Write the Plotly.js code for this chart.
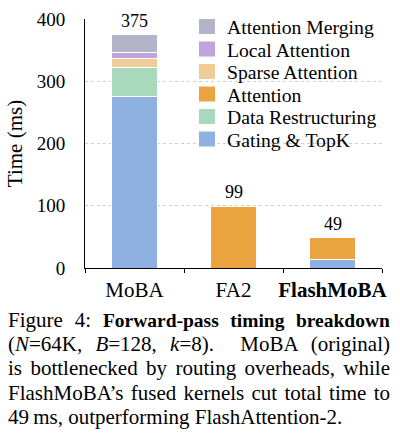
<!DOCTYPE html>
<html>
<head>
<meta charset="utf-8">
<script src="https://cdn.plot.ly/plotly-3.0.1.min.js"></script>
<style>
  html, body { margin: 0; padding: 0; background: #fff; }
  #chart { width: 400px; height: 433px; }
</style>
</head>
<body>
<div id="chart"></div>
<script>
const methods = ["MoBA", "FA2", "FlashMoBA"];
const tickLabels = ["MoBA", "FA2", "<b>FlashMoBA</b>"];

// stack order, bottom to top
const gating = [275, 0, 14];
const restructuring = [47, 0, 0];
const attention = [0, 99, 35];
const sparse = [15, 0, 0];
const local = [9, 0, 0];
const merging = [29, 0, 0];

const seriesNames = ["Gating & TopK", "Data Restructuring", "Attention",
  "Sparse Attention", "Local Attention", "Attention Merging"];
const seriesValues = [gating, restructuring, attention, sparse, local, merging];
const seriesColors = ["#8fb1e2", "#a9d9bd", "#eba440", "#f0cc98", "#c2a3dc", "#b4b4c8"];

const captionLines = [
  "Figure 4: <span style=\"font-size:19.5px\"><b>Forward-pass timing breakdown</b></span>",
  "(<i>N</i>=64K, <i>B</i>=128, <i>k</i>=8).  MoBA (original)",
  "is bottlenecked by routing overheads, while",
  "FlashMoBA\u2019s fused kernels cut total time to",
  "49\u2009ms, outperforming FlashAttention-2."
];

const serif = "Liberation Serif, Times New Roman, serif";

const traces = seriesNames.map((name, i) => ({
  type: "bar",
  name: name,
  x: methods,
  y: seriesValues[i],
  marker: { color: seriesColors[i], line: { color: "#fff", width: 1 } },
  width: 0.46,
  hoverinfo: "skip",
}));

const totals = methods.map((m, j) =>
  seriesValues.reduce((s, arr) => s + arr[j], 0));

const margin = { l: 85, r: 18, t: 17, b: 165 };
const plotW = 400 - margin.l - margin.r;
const plotH = 433 - margin.t - margin.b;

const annotations = methods.map((m, j) => ({
  x: m, y: totals[j], xref: "x", yref: "y",
  text: String(totals[j]), showarrow: false,
  yanchor: "bottom", yshift: 2,
  font: { family: serif, size: 18, color: "#000" },
}));

const capStart = annotations.length;
captionLines.forEach((line, i) => {
  annotations.push({
    xref: "paper", yref: "paper",
    x: (6 - margin.l) / plotW,
    y: -(320 + i * 24.5 - (margin.t + plotH)) / plotH,
    xanchor: "left", yanchor: "middle",
    text: line, showarrow: false, align: "left",
    font: { family: serif, size: 21, color: "#000" },
  });
});

const layout = {
  width: 400,
  height: 433,
  margin: margin,
  barmode: "stack",
  paper_bgcolor: "#fff",
  plot_bgcolor: "#fff",
  font: { family: serif, size: 19, color: "#000" },
  showlegend: true,
  legend: {
    x: (187 - margin.l) / plotW, y: 1.03, xanchor: "left", yanchor: "top",
    traceorder: "reversed",
    bgcolor: "rgba(0,0,0,0)",
    font: { family: serif, size: 19.7 },
    itemwidth: 30,
    tracegroupgap: 0,
  },
  xaxis: {
    tickvals: methods,
    ticktext: tickLabels,
    tickangle: 0,
    tickson: "boundaries",
    ticks: "outside",
    ticklen: 4,
    tickcolor: "#000",
    showline: true,
    linecolor: "#000",
    linewidth: 1,
    showgrid: false,
    tickfont: { family: serif, size: 21 },
    ticklabelstandoff: 3,
  },
  yaxis: {
    range: [0, 400],
    tickvals: [0, 100, 200, 300, 400],
    showline: true,
    linecolor: "#000",
    linewidth: 1,
    ticks: "",
    showgrid: true,
    gridcolor: "#cfcfcf",
    griddash: "dot",
    gridwidth: 1,
    zeroline: false,
    tickfont: { family: serif, size: 19 },
    ticklabelstandoff: 15,
    title: { text: "Time (ms)", font: { family: serif, size: 21 }, standoff: 8 },
  },
  annotations: annotations,
};

Plotly.newPlot("chart", traces, layout, { staticPlot: true, displayModeBar: false }).then(gd => {
  // tighter legend rows and bigger swatches, like the paper figure
  const items = gd.querySelectorAll(".legend .traces");
  items.forEach((g, i) => {
    g.setAttribute("transform", "translate(0," + (15 + i * 22.5) + ")");
  });
  gd.querySelectorAll(".legend .legendpoints path").forEach(p => {
    p.setAttribute("d", "M8.5,8H-8.5V-8H8.5Z");
  });

  // justify the first four caption lines
  const capWidth = 382;
  gd.querySelectorAll(".annotation").forEach(g => {
    const idx = +g.getAttribute("data-index");
    if (idx < capStart || idx >= capStart + 4) return;
    const t = g.querySelector("text.annotation-text");
    const bb = t.getBBox();
    const spaces = (t.textContent.match(/ /g) || []).length;
    t.setAttribute("text-anchor", "start");
    t.setAttribute("x", bb.x);
    t.style.wordSpacing = ((capWidth - bb.width) / spaces) + "px";
  });
});
</script>
</body>
</html>
